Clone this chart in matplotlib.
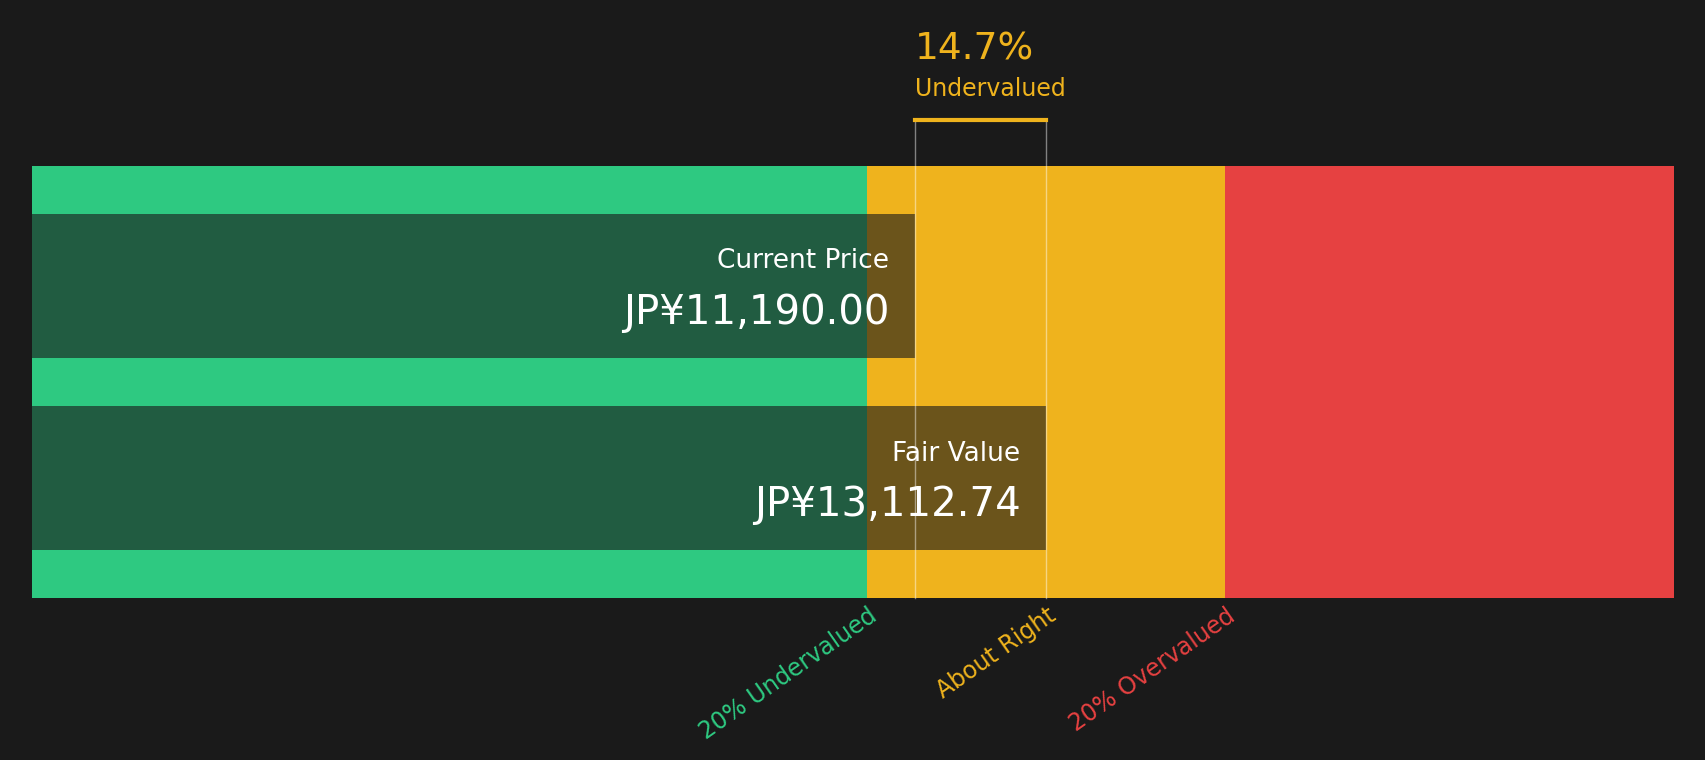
import matplotlib.pyplot as plt

current_price = 11190.00
fair_value = 13112.74
undervalued_pct = 14.7
band_labels = ['20% Undervalued', 'About Right', '20% Overvalued']
band_colors = ['#2ec981', '#efb31d', '#e64141']

bg = '#1a1a1a'
fig = plt.figure(figsize=(17.06, 7.6), dpi=100, facecolor=bg)
ax = fig.add_axes([0.0185, 0.213, 0.9625, 0.568])
ax.set_facecolor(bg)
x0, x1 = -1750, 22300
ax.set_xlim(x0, x1)
ax.set_ylim(0, 1)

low, high = 0.8 * fair_value, 1.2 * fair_value
ax.axvspan(x0, low, color=band_colors[0], lw=0)
ax.axvspan(low, high, color=band_colors[1], lw=0)
ax.axvspan(high, x1, color=band_colors[2], lw=0)

# dark overlay bars
ax.barh(0.723, current_price - x0, left=x0, height=0.332, color='#1a1a1a', alpha=0.62, lw=0)
ax.barh(0.2785, fair_value - x0, left=x0, height=0.335, color='#1a1a1a', alpha=0.62, lw=0)

pad = 380
ax.text(current_price - pad, 0.78, 'Current Price', color='white', fontsize=19, ha='right', va='center')
ax.text(current_price - pad, 0.66, 'JP¥11,190.00', color='white', fontsize=29, ha='right', va='center')
ax.text(fair_value - pad, 0.335, 'Fair Value', color='white', fontsize=19, ha='right', va='center')
ax.text(fair_value - pad, 0.215, 'JP¥13,112.74', color='white', fontsize=29, ha='right', va='center')

# bracket
for xv in (current_price, fair_value):
    ax.plot([xv, xv], [0, 1.108], color='white', alpha=0.45, lw=1, clip_on=False)
ax.plot([current_price, fair_value], [1.108, 1.108], color=band_colors[1], lw=3, clip_on=False)
ax.text(current_price, 1.272, f'{undervalued_pct}%', color=band_colors[1], fontsize=27, ha='left', va='center')
ax.text(current_price, 1.179, 'Undervalued', color=band_colors[1], fontsize=17, ha='left', va='center')

ax.set_xticks([low, fair_value, high])
ax.set_xticklabels(band_labels, rotation=35, ha='right', rotation_mode='anchor', fontsize=17)
for lbl, c in zip(ax.get_xticklabels(), band_colors):
    lbl.set_color(c)
ax.tick_params(axis='x', length=0, pad=4)
ax.set_yticks([])
for s in ax.spines.values():
    s.set_visible(False)

fig.savefig('out.png', facecolor=bg)
